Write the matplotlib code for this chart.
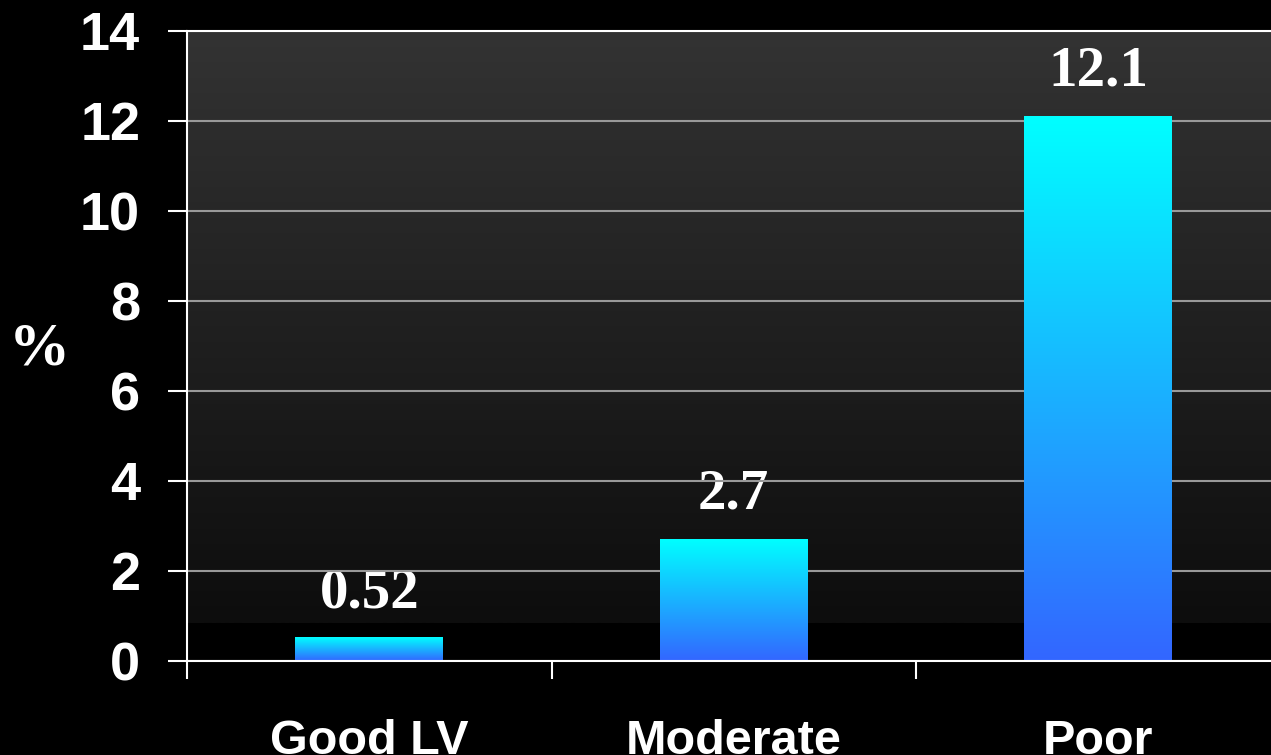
import numpy as np
import matplotlib.pyplot as plt

# data
categories = ['Good LV', 'Moderate', 'Poor']
values = [0.52, 2.7, 12.1]
value_labels = ['0.52', '2.7', '12.1']
yticks = [0, 2, 4, 6, 8, 10, 12, 14]

W, H = 1271, 755
fig = plt.figure(figsize=(W / 100, H / 100), dpi=100, facecolor='black')
ax = fig.add_axes([187 / W, 94 / H, 1093.5 / W, 630 / H])
ax.set_facecolor('black')

# background: grey at the top fading to black, black band at the bottom
grad = np.linspace(0x33, 0x0d, 256)[:, None] / 255.0
bg = np.dstack([grad, grad, grad])
ax.imshow(bg, extent=(-0.5, 2.5, 0.84, 14), aspect='auto', zorder=0,
          interpolation='bilinear', origin='upper')

# bars with cyan -> blue vertical gradient
top = np.array([0, 255, 255]) / 255.0
bot = np.array([51, 102, 255]) / 255.0
t = np.linspace(0, 1, 256)[:, None]
bar_img = (top * (1 - t) + bot * t)[:, None, :]
bw = 0.406
for i, v in enumerate(values):
    ax.imshow(bar_img, extent=(i - bw / 2, i + bw / 2, 0, v), aspect='auto',
              zorder=2, origin='upper')
    ax.annotate(value_labels[i], (i, v), xytext=(0, 22), textcoords='offset points',
                ha='center', va='baseline', color='white', fontsize=41,
                fontweight='bold', family='Liberation Serif', zorder=0.8)
ax.set_xlim(-0.5, 2.5)
ax.set_ylim(0, 14)

# grid
ax.set_yticks(yticks)
ax.yaxis.grid(True, color='#999999', linewidth=1.5)
for gl in ax.get_ygridlines():
    gl.set_zorder(1)

for s in ['left', 'bottom', 'top']:
    ax.spines[s].set_color('white')
    ax.spines[s].set_linewidth(1.5)
    ax.spines[s].set_zorder(3)
ax.spines['right'].set_visible(False)

ax.tick_params(axis='y', direction='out', length=13.7, width=1.5, color='white',
               labelcolor='white', labelsize=39, pad=20)
for lab in ax.get_yticklabels():
    lab.set_fontweight('bold')
    lab.set_family('Liberation Sans')

ax.set_xticks(range(len(categories)))
ax.set_xticklabels(categories, fontsize=35, fontweight='bold',
                   family='Liberation Sans', color='white')
ax.tick_params(axis='x', which='major', length=0, pad=42)
ax.set_xticks([-0.5, 0.5, 1.5, 2.5], minor=True)
ax.tick_params(axis='x', which='minor', direction='out', length=13, width=1.5,
               color='white')

fig.text(39 / W, 1 - 350 / H, '%', color='white', fontsize=44, fontweight='bold',
         family='Liberation Serif', ha='center', va='center')

fig.savefig('out.png', dpi=100, facecolor='black')
